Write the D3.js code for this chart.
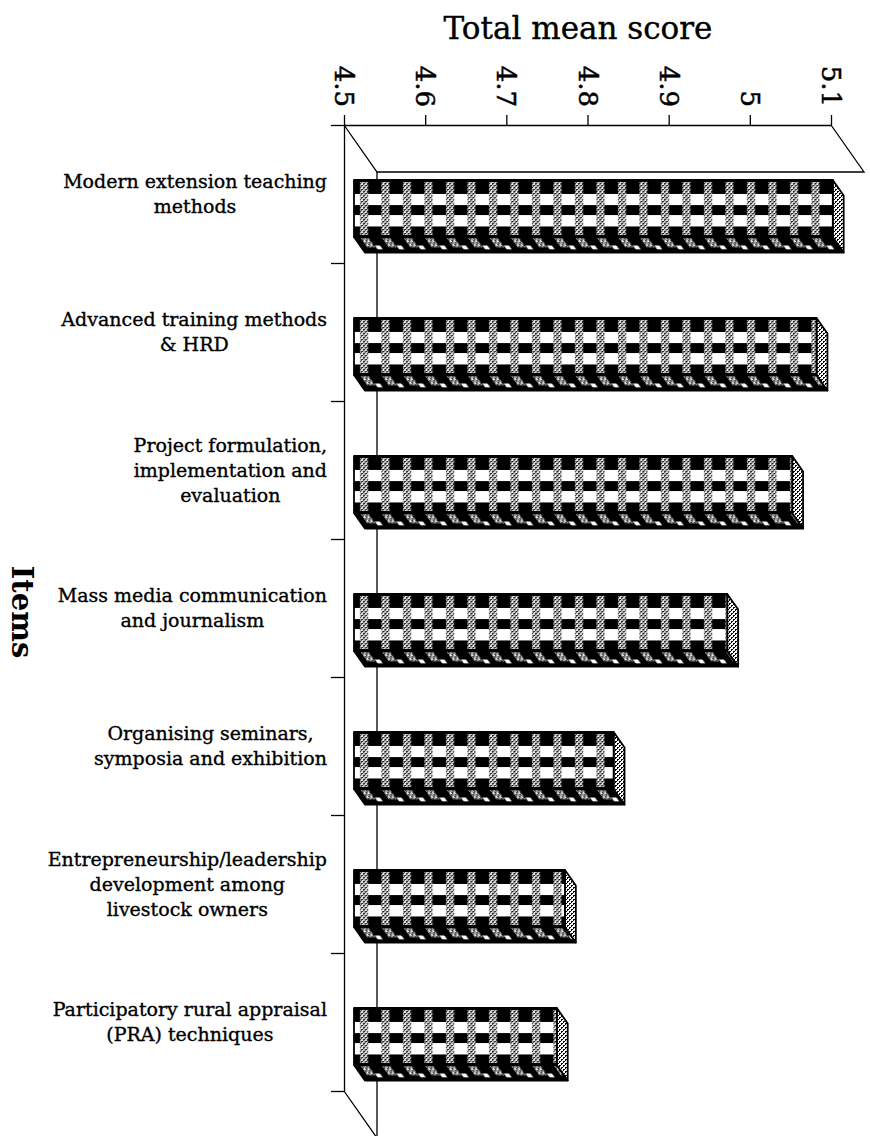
<!DOCTYPE html>
<html>
<head>
<meta charset="utf-8">
<script src="https://cdn.jsdelivr.net/npm/d3@7"></script>
<style>
  body { margin: 0; background: #fff; }
  svg { display: block; }
  text { font-family: "DejaVu Serif", "Liberation Serif", serif; fill: #000; }
</style>
</head>
<body>
<svg id="chart" width="870" height="1136"></svg>
<script>
// Training items (wrapped label lines) and their total mean scores
const categories = [
  ["Modern extension teaching", "methods"],
  ["Advanced training methods", "& HRD"],
  ["Project formulation,", "implementation and", "evaluation"],
  ["Mass media communication", "and journalism"],
  ["Organising seminars,", "symposia and exhibition"],
  ["Entrepreneurship/leadership", "development among", "livestock owners"],
  ["Participatory rural appraisal", "(PRA) techniques"]
];
const scores = [5.09, 5.07, 5.04, 4.96, 4.82, 4.76, 4.75];
const tickValues = [4.5, 4.6, 4.7, 4.8, 4.9, 5.0, 5.1];
const tickLabels = ["4.5", "4.6", "4.7", "4.8", "4.9", "5", "5.1"];
const valueTitle = "Total mean score";
const categoryTitle = "Items";

const svg = d3.select("#chart");

// Plot frame and oblique depth vector of the 3-D box
const plot = { left: 344, right: 831, top: 125, bottom: 1091 };
const DEPTH = { dx: 33, dy: 47 };
const BAR_Z0 = 0.30, BAR_Z1 = 0.63;   // bar slab position in depth
const PERIOD = 21.5;                 // plaid repeat width

const x = d3.scaleLinear().domain([4.5, 5.1]).range([plot.left, plot.right]);
const y = d3.scaleBand().domain(d3.range(categories.length)).range([plot.top, plot.bottom]).padding(0);
const yEdge = d3.scaleLinear().domain([0, categories.length]).range([plot.top, plot.bottom]);

const defs = svg.append("defs");
// cross-stitch texture: white diagonals forming small X's on black
const stitch = defs.append("pattern").attr("id", "stitch")
  .attr("patternUnits", "userSpaceOnUse").attr("width", 4).attr("height", 4);
stitch.append("rect").attr("width", 4).attr("height", 4).attr("fill", "#000");
[[0, 0], [1, 1], [2, 2], [3, 3], [3, 0], [2, 1], [1, 2], [0, 3], [2, 0], [0, 2]].forEach(([px, py]) =>
  stitch.append("rect").attr("x", px).attr("y", py).attr("width", 1).attr("height", 1).attr("fill", "#fff"));

// Walls: the value-origin wall on the left and the first-category wall on top
const frame = svg.append("g").attr("fill", "none").attr("stroke", "#000").attr("stroke-width", 1.3);
const x0 = x(4.5), x1 = x(5.1);
frame.append("path").attr("d",
  `M${x0},${plot.top} L${x0 + DEPTH.dx},${plot.top + DEPTH.dy} L${x1 + DEPTH.dx},${plot.top + DEPTH.dy} L${x1},${plot.top}`);
frame.append("path").attr("d",
  `M${x0},${plot.bottom} L${x0 + DEPTH.dx},${plot.bottom + DEPTH.dy} L${x0 + DEPTH.dx},${plot.top + DEPTH.dy}`);

// Bars
const bars = svg.append("g");
scores.forEach((v, i) => {
  const bw = y.bandwidth();
  const h = Math.round(bw * 0.415);
  const yc = y(i) + bw / 2;
  const xl = Math.round(x(4.5) + BAR_Z0 * DEPTH.dx);
  const xr = x(v) + BAR_Z0 * DEPTH.dx;
  const yt = Math.round(yc - h / 2 + BAR_Z0 * DEPTH.dy);
  const yb = yt + h;
  const ddx = (BAR_Z1 - BAR_Z0) * DEPTH.dx;
  const ddy = (BAR_Z1 - BAR_Z0) * DEPTH.dy;

  const face = defs.append("pattern").attr("id", `face${i}`)
    .attr("patternUnits", "userSpaceOnUse")
    .attr("x", xl).attr("y", yt).attr("width", PERIOD).attr("height", h);
  face.append("rect").attr("width", PERIOD).attr("height", h).attr("fill", "#000");
  face.append("rect").attr("y", h * 0.245).attr("width", PERIOD).attr("height", h * 0.195).attr("fill", "#fff");
  face.append("rect").attr("y", h * 0.615).attr("width", PERIOD).attr("height", h * 0.2).attr("fill", "#fff");
  face.append("rect").attr("x", 6).attr("y", 2).attr("width", 8).attr("height", h - 4).attr("fill", "url(#stitch)");

  const skew = Math.atan(ddx / ddy) * 180 / Math.PI;
  const under = defs.append("pattern").attr("id", `under${i}`)
    .attr("patternUnits", "userSpaceOnUse")
    .attr("width", PERIOD).attr("height", ddy)
    .attr("patternTransform", `translate(${xl},${yb}) skewX(${skew})`);
  under.append("rect").attr("width", PERIOD).attr("height", ddy).attr("fill", "#000");
  under.append("rect").attr("x", 6).attr("y", 1).attr("width", 8).attr("height", ddy * 0.6).attr("fill", "url(#stitch)");
  under.append("rect").attr("x", 15).attr("y", ddy * 0.55).attr("width", 5).attr("height", ddy * 0.25).attr("fill", "#fff");

  const g = bars.append("g").attr("stroke", "#000").attr("stroke-width", 1.8).attr("stroke-linejoin", "round");
  g.append("path").attr("fill", `url(#under${i})`)
    .attr("d", `M${xl},${yb} L${xr},${yb} L${xr + ddx},${yb + ddy} L${xl + ddx},${yb + ddy} Z`);
  g.append("path").attr("fill", "url(#stitch)")
    .attr("d", `M${xr},${yt} L${xr + ddx},${yt + ddy} L${xr + ddx},${yb + ddy} L${xr},${yb} Z`);
  g.append("rect").attr("fill", `url(#face${i})`)
    .attr("x", xl).attr("y", yt).attr("width", xr - xl).attr("height", h);
});

// Value axis along the top front edge
const xAxis = svg.append("g").attr("transform", `translate(0,${plot.top})`)
  .call(d3.axisTop(x).tickValues(tickValues).tickFormat((d, i) => tickLabels[i])
    .tickSize(10).tickSizeOuter(0));
xAxis.select(".domain").attr("stroke", "#000").attr("stroke-width", 1.3);
xAxis.selectAll(".tick line").attr("stroke", "#000").attr("stroke-width", 1.3);
xAxis.selectAll(".tick text")
  .attr("transform", "rotate(90)")
  .attr("x", -18).attr("y", 0).attr("dy", "0.36em")
  .attr("text-anchor", "end")
  .attr("stroke", "#000").attr("stroke-width", 0.5)
  .style("font-family", "'DejaVu Serif', serif")
  .style("font-size", "26px");

// Category axis on the left front edge, ticks at band boundaries
const yAxis = svg.append("g").attr("transform", `translate(${plot.left},0)`)
  .call(d3.axisLeft(yEdge).tickValues(d3.range(categories.length + 1)).tickFormat("")
    .tickSize(13).tickSizeOuter(0));
yAxis.select(".domain").attr("stroke", "#000").attr("stroke-width", 1.3);
yAxis.selectAll(".tick line").attr("stroke", "#000").attr("stroke-width", 1.3);

// Category labels: each block centred, right edge flush at the axis
const LABEL_RIGHT = 327, LINE_H = 25;
const labels = svg.append("g").style("font-size", "19px")
  .attr("stroke", "#000").attr("stroke-width", 0.35);
categories.forEach((lines, i) => {
  const g = labels.append("g");
  const cy = y(i) + y.bandwidth() / 2;
  const t = g.selectAll("text").data(lines).join("text")
    .attr("text-anchor", "middle")
    .attr("y", (d, k) => cy + (k - (lines.length - 1) / 2) * LINE_H)
    .attr("dy", "0.35em")
    .text(d => d);
  const w = d3.max(t.nodes(), n => n.getComputedTextLength());
  t.attr("x", LABEL_RIGHT - w / 2);
});

// Titles
svg.append("text").attr("x", 578).attr("y", 39).attr("text-anchor", "middle")
  .attr("stroke", "#000").attr("stroke-width", 0.4)
  .style("font-size", "31px").text(valueTitle);
svg.append("text")
  .attr("transform", `translate(22,${(plot.top + plot.bottom) / 2 + 4}) rotate(90)`)
  .attr("text-anchor", "middle").attr("dy", "0.35em")
  .style("font-size", "29px").style("font-weight", "bold").text(categoryTitle);
</script>
</body>
</html>
